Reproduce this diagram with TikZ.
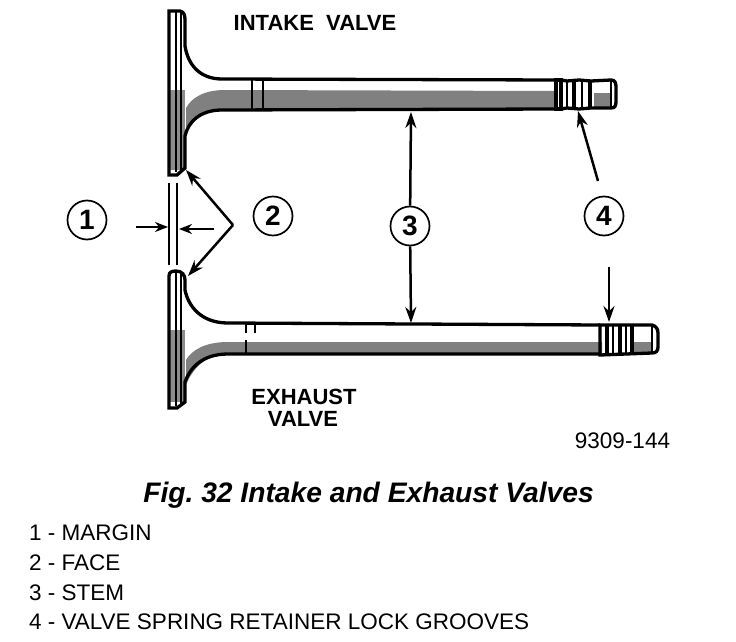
\documentclass[tikz,border=0pt]{standalone}
\usepackage{fontspec}
\setmainfont{Liberation Sans}
\usetikzlibrary{arrows.meta}
\frenchspacing
\tikzset{
  callout/.style={draw, circle, line width=1.7pt, minimum size=39pt, inner sep=0pt, font=\fontsize{28}{28}\selectfont\bfseries},
  pointer/.style={line width=2.5pt, -{Stealth[length=16pt,width=11pt]}},
  small pointer/.style={line width=2.2pt, -{Stealth[length=13pt,width=10pt]}},
  outline/.style={line width=3.3pt},
  thin outline/.style={line width=1.8pt},
  shade band/.style={draw=none, fill=black!50},
  title/.style={font=\fontsize{22}{22}\selectfont\bfseries},
  legend/.style={anchor=west, font=\fontsize{22.5}{22.5}\selectfont}
}
\begin{document}
\begin{tikzpicture}[x=1pt,y=-1pt]
\useasboundingbox (0,0) rectangle (736,642);

% intake valve
\fill[shade band] (186,108) .. controls (192,97) and (205,90) .. (225,90) -- (556,91) -- (556,108) -- (220,109) .. controls (200,111) and (190,125) .. (186,135) -- cycle;
\fill[shade band] (594,93) rectangle (612,108);
\fill[black!45] (170,90) rectangle (185,170);
\draw[outline] (169,172) -- (169,11) -- (180,11) .. controls (184,12) and (185,15) .. (185,20) -- (185,46)
  .. controls (188,65) and (200,79) .. (222,79) -- (556,80);
\draw[outline] (169,172) -- (169,175) -- (177,175) -- (185,168) -- (185,136) .. controls (188,122) and (200,110) .. (222,110) -- (556,109);
\draw[thin outline] (176,12) -- (176,172);
\draw[thin outline] (181,12) -- (181,170);
\draw[thin outline] (252,80) -- (252,110);
\draw[thin outline] (263,80) -- (263,110);
\draw[outline] (556,80) -- (556,109) -- (561,109) -- (561,80) -- cycle;
\draw[outline] (561,80) -- (567,81) -- (579,80) -- (591,81) -- (611,80) .. controls (615,80) and (616,83) .. (616,87)
  -- (616,101) .. controls (616,106) and (615,108) .. (611,108) -- (591,108) -- (579,109) -- (567,108) -- (561,109);
\draw[thin outline] (567,81) -- (567,108);
\draw[outline] (574,81) -- (574,109);
\draw[thin outline] (582,81) -- (582,108);
\draw[outline] (590,81) -- (590,108);
\draw[thin outline] (611,81) -- (611,108);

% exhaust valve
\fill[shade band] (186,360) .. controls (192,350) and (205,342) .. (228,342) -- (602,342) -- (602,353) -- (228,354) .. controls (205,354) and (192,370) .. (186,385) -- cycle;
\fill[shade band] (634,342) rectangle (652,353);
\fill[black!45] (170,330) rectangle (185,402);
\draw[outline] (169,406) -- (169,276) .. controls (169,272) and (172,271) .. (176,271) .. controls (182,271) and (185,275) .. (185,280)
  -- (185,290) .. controls (188,305) and (200,323) .. (228,323) -- (600,325);
\draw[outline] (169,406) -- (169,408) -- (177,408) -- (185,402) -- (185,382) .. controls (190,368) and (202,354) .. (228,354) -- (600,354);
\draw[thin outline] (176,272) -- (176,406);
\draw[thin outline] (181,273) -- (181,404);
\draw[thin outline] (246,324) -- (246,333);
\draw[thin outline] (255,324) -- (255,333);
\draw[thin outline] (246,340) -- (246,354);
\draw[outline] (600,325) -- (652,325) .. controls (656,326) and (658,329) .. (658,333) -- (658,347) .. controls (658,351) and (656,353) .. (652,353) -- (600,355) -- cycle;
\draw[outline] (607,325) -- (607,354);
\draw[thin outline] (613,325) -- (613,354);
\draw[outline] (620,325) -- (620,354);
\draw[thin outline] (626,325) -- (626,354);
\draw[outline] (632,325) -- (632,353);
\draw[thin outline] (652,326) -- (652,352);

% margin lines and callouts
\draw[thin outline] (169,183) -- (169,265);
\draw[thin outline] (177,183) -- (177,265);
\node[callout] (one) at (87,220) {1};
\node[callout] (two) at (273,216) {2};
\node[callout] (three) at (410,226) {3};
\node[callout] (four) at (604,216) {4};

\coordinate (margin left) at (136,227);
\coordinate (margin left tip) at (168,227);
\coordinate (margin right) at (214,229);
\coordinate (margin right tip) at (179,229);
\draw[small pointer] (margin left) -- (margin left tip);
\draw[small pointer] (margin right) -- (margin right tip);

\coordinate (face) at (233,225);
\coordinate (face top) at (186,170);
\coordinate (face bottom) at (188,276);
\draw[pointer] (face) -- (face top);
\draw[pointer] (face) -- (face bottom);

\coordinate (stem top) at (411,112);
\coordinate (stem bottom) at (411,323);
\draw[pointer] (three) -- (stem top);
\draw[pointer] (three) -- (stem bottom);

\coordinate (groove start) at (598,181);
\coordinate (groove top) at (578,111);
\coordinate (groove mid) at (609,267);
\coordinate (groove bottom) at (609,322);
\draw[pointer] (groove start) -- (groove top);
\draw[pointer] (groove mid) -- (groove bottom);

% texts
\node[title] (intake) at (315,23) {INTAKE\ \ VALVE};
\node[title] (exhaust) at (304,397) {EXHAUST};
\node[title] (exhaust two) at (303,419) {VALVE};
\node[font=\fontsize{22.5}{22.5}\selectfont] (code) at (622.5,441) {9309-144};
\node[font=\fontsize{28.2}{28.2}\selectfont\bfseries\itshape] (caption) at (368.5,495) {Fig. 32 Intake and Exhaust Valves};
\node[legend] (item one) at (25.5,533) {1 - MARGIN};
\node[legend] (item two) at (25.5,563) {2 - FACE};
\node[legend] (item three) at (25.5,593) {3 - STEM};
\node[legend] (item four) at (25.5,622) {4 - VALVE SPRING RETAINER LOCK GROOVES};
\end{tikzpicture}
\end{document}
